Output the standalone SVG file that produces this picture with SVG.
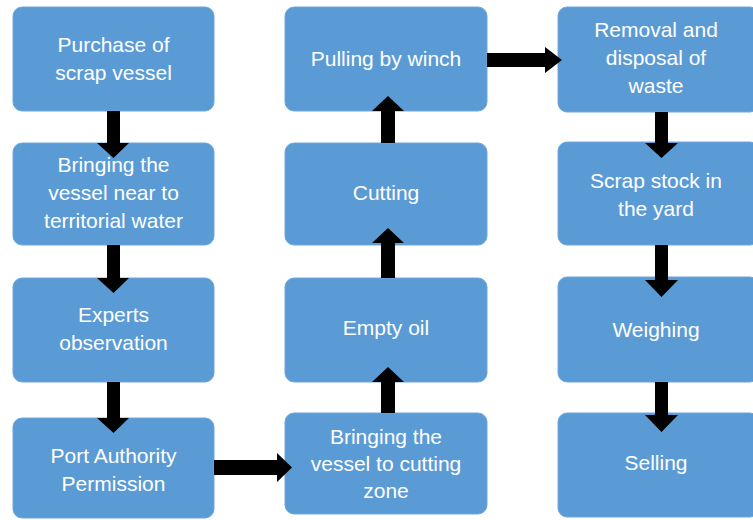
<svg xmlns="http://www.w3.org/2000/svg" width="753" height="520" viewBox="0 0 753 520">
<style>
.box{fill:#5B9BD5;stroke:#6EA6DA;stroke-width:1}
.t{font-family:"Liberation Sans",Arial,sans-serif;font-size:21px;fill:#FFFFFF;text-anchor:middle}
.arr{fill:#000000}
</style>
<rect width="753" height="520" fill="#FFFFFF"/>
<g id="n1"><rect class="box" x="13" y="7" width="201" height="104" rx="9"/><text class="t" x="113.5" y="52">Purchase of</text><text class="t" x="113.5" y="80">scrap vessel</text></g>
<g id="n2"><rect class="box" x="13" y="143" width="201" height="102" rx="9"/><text class="t" x="113.5" y="172">Bringing the</text><text class="t" x="113.5" y="200">vessel near to</text><text class="t" x="113.5" y="228">territorial water</text></g>
<g id="n3"><rect class="box" x="13" y="278" width="201" height="104" rx="9"/><text class="t" x="113.5" y="322">Experts</text><text class="t" x="113.5" y="350">observation</text></g>
<g id="n4"><rect class="box" x="13" y="418" width="201" height="100" rx="9"/><text class="t" x="113.5" y="463">Port Authority</text><text class="t" x="113.5" y="491">Permission</text></g>
<g id="n5"><rect class="box" x="285" y="413" width="202" height="101" rx="9"/><text class="t" x="386" y="444">Bringing the</text><text class="t" x="386" y="471">vessel to cutting</text><text class="t" x="386" y="498">zone</text></g>
<g id="n6"><rect class="box" x="285" y="278" width="202" height="104" rx="9"/><text class="t" x="386" y="335">Empty oil</text></g>
<g id="n7"><rect class="box" x="285" y="143" width="202" height="102" rx="9"/><text class="t" x="386" y="200">Cutting</text></g>
<g id="n8"><rect class="box" x="285" y="7" width="202" height="104" rx="9"/><text class="t" x="386" y="66">Pulling by winch</text></g>
<g id="n9"><rect class="box" x="558" y="7" width="201" height="105" rx="9"/><text class="t" x="656" y="37">Removal and</text><text class="t" x="656" y="65">disposal of</text><text class="t" x="656" y="93">waste</text></g>
<g id="n10"><rect class="box" x="558" y="142" width="201" height="103" rx="9"/><text class="t" x="656" y="188">Scrap stock in</text><text class="t" x="656" y="216">the yard</text></g>
<g id="n11"><rect class="box" x="558" y="277" width="201" height="105" rx="9"/><text class="t" x="656" y="337">Weighing</text></g>
<g id="n12"><rect class="box" x="558" y="413" width="201" height="104" rx="9"/><text class="t" x="656" y="470">Selling</text></g>
<g id="connectors">
<polygon class="arr" points="107,111 120,111 120,143 129,143 113.5,158 97,143 107,143"/>
<polygon class="arr" points="107,245 120,245 120,278 129,278 113.5,293 97,278 107,278"/>
<polygon class="arr" points="107,382 120,382 120,418 129,418 113.5,433 97,418 107,418"/>
<polygon class="arr" points="214,460 277,460 277,453 292,467.5 277,482 277,475 214,475"/>
<polygon class="arr" points="381,413 395,413 395,382 404,382 388,367 372,382 381,382"/>
<polygon class="arr" points="381,278 395,278 395,243 404,243 388,228 372,243 381,243"/>
<polygon class="arr" points="381,143 395,143 395,111 404,111 388,96 372,111 381,111"/>
<polygon class="arr" points="487,53 545,53 545,47 562,60 545,73 545,67 487,67"/>
<polygon class="arr" points="655,112 668,112 668,143 678,143 661.5,158 645,143 655,143"/>
<polygon class="arr" points="655,245 668,245 668,280 678,280 661.5,297 645,280 655,280"/>
<polygon class="arr" points="655,382 668,382 668,415 678,415 661.5,432 645,415 655,415"/>
</g>
</svg>
